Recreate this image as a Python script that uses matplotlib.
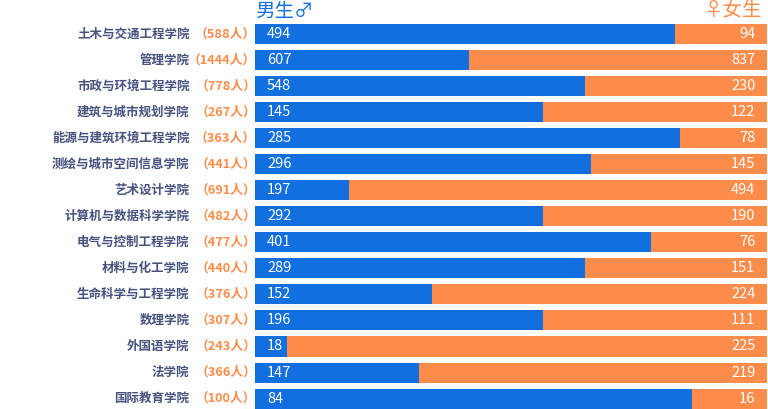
import matplotlib.pyplot as plt
import numpy as np

plt.rcParams['font.family'] = ['Noto Sans CJK SC', 'DejaVu Sans']

colleges = ["土木与交通工程学院", "管理学院", "市政与环境工程学院", "建筑与城市规划学院",
            "能源与建筑环境工程学院", "测绘与城市空间信息学院", "艺术设计学院", "计算机与数据科学学院",
            "电气与控制工程学院", "材料与化工学院", "生命科学与工程学院", "数理学院",
            "外国语学院", "法学院", "国际教育学院"]
totals = ["（588人）", "（1444人）", "（778人）", "（267人）", "（363人）", "（441人）", "（691人）",
          "（482人）", "（477人）", "（440人）", "（376人）", "（307人）", "（243人）", "（366人）", "（100人）"]
male = [494, 607, 548, 145, 285, 296, 197, 292, 401, 289, 152, 196, 18, 147, 84]
female = [94, 837, 230, 122, 78, 145, 494, 190, 76, 151, 224, 111, 225, 219, 16]
# drawn share of the blue part (does not follow the counts exactly)
male_share = [0.82, 0.418, 0.645, 0.5625, 0.83, 0.656, 0.184, 0.5625, 0.773, 0.645,
              0.346, 0.5625, 0.0625, 0.32, 0.853]

BLUE = "#116fe0"
ORANGE = "#ff8c4b"
NAVY = "#46527f"
W, H = 768, 409

fig = plt.figure(figsize=(W / 100, H / 100), dpi=100)
ax = fig.add_axes([255 / W, 1 - 411.6 / H, 512 / W, 390.6 / H])
y = np.arange(len(colleges))
share = np.array(male_share)
ax.barh(y, share, height=0.77, color=BLUE)
ax.barh(y, 1 - share, left=share, height=0.77, color=ORANGE)
ax.set_xlim(0, 1)
ax.set_ylim(len(colleges) - 0.5, -0.5)
ax.axis("off")

tr = ax.get_yaxis_transform()
to_x = lambda px: (px - 255) / 512
for i in y:
    ax.text(to_x(189.5), i, colleges[i], transform=tr, ha="right", va="center", fontsize=9,
            color=NAVY, fontweight="bold", clip_on=False)
    ax.text(to_x(256), i, totals[i], transform=tr, ha="right", va="center", fontsize=9.2,
            color=ORANGE, fontweight="bold", clip_on=False)
    ax.text(to_x(267), i, str(male[i]), transform=tr, ha="left", va="center", fontsize=10.5, color="white")
    ax.text(to_x(755.5), i, str(female[i]), transform=tr, ha="right", va="center", fontsize=10.5, color="white")

fig.text(255 / W, 1 - 11 / H, "男生♂", ha="left", va="center", fontsize=14, color=BLUE, fontweight="medium")
fig.text(762 / W, 1 - 11 / H, "♀女生", ha="right", va="center", fontsize=14, color=ORANGE, fontweight="medium")

fig.savefig("out.png", dpi=100)
